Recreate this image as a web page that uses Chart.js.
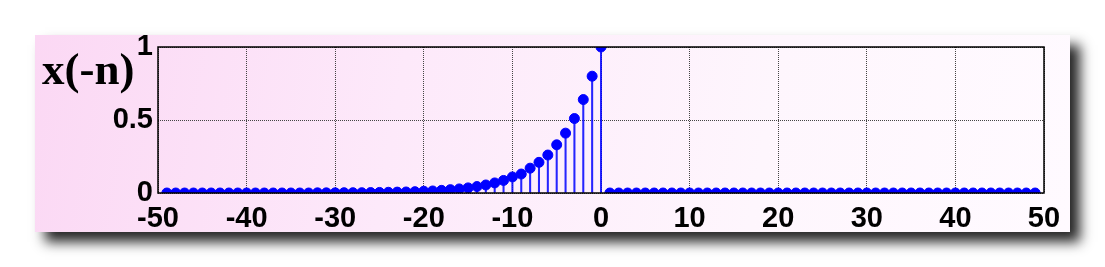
<!DOCTYPE html>
<html>
<head>
<meta charset="utf-8">
<script src="https://cdn.jsdelivr.net/npm/chart.js@4/dist/chart.umd.min.js"></script>
<style>
  html, body { margin: 0; padding: 0; background: #fff; }
  body { width: 1105px; height: 267px; position: relative; overflow: hidden; }
  .panel {
    position: absolute; left: 35px; top: 35px; width: 1035px; height: 197px;
    background: linear-gradient(100deg, #fbd8f4 0%, #fde9fa 35%, #fef6fd 70%, #fffaff 100%);
    box-shadow: 10px 10px 12px rgba(0,0,0,0.85);
  }
  .wrap { position: absolute; left: 0; top: 0; width: 1105px; height: 267px; }
  .ylab {
    position: absolute; left: 42px; top: 47px;
    font-family: "Liberation Serif", "DejaVu Serif", serif; font-weight: bold;
    font-size: 45px; line-height: 1; color: #000;
  }
</style>
</head>
<body>
<div class="panel"></div>
<div class="wrap"><canvas id="stemChart" width="1105" height="267"></canvas></div>
<div class="ylab">x(-n)</div>
<script>
// n = -49 ... 49
const nValues = [];
for (let n = -49; n <= 49; n++) nValues.push(n);

// x(-n), from n = -49 up to n = 0
const leftValues = [
    0, 0, 0, 0, 0, 0, 0, 0, 0, 0,
    0, 0, 0, 0, 0, 0, 0, 0, 0, 0.001,
    0.001, 0.001, 0.002, 0.002, 0.002, 0.003, 0.004, 0.005, 0.006, 0.007,
    0.009, 0.012, 0.014, 0.018, 0.023, 0.028, 0.035, 0.044, 0.055, 0.069,
    0.086, 0.11, 0.13, 0.17, 0.21, 0.26, 0.33, 0.41, 0.51, 0.64,
    0.8, 1.0
].slice(-50);
// n = 1 ... 49
const rightValues = new Array(49).fill(0);
const xValues = leftValues.concat(rightValues);

const xTicks = [-50, -40, -30, -20, -10, 0, 10, 20, 30, 40, 50];
const yTicks = [0, 0.5, 1];

const points = nValues.map((n, i) => ({ x: n, y: xValues[i] }));

const boxPlugin = {
    id: 'box',
    afterDraw(chart) {
        const { ctx, chartArea: a } = chart;
        ctx.save();
        ctx.strokeStyle = '#000';
        ctx.lineWidth = 1.5;
        ctx.strokeRect(a.left, a.top, a.right - a.left, a.bottom - a.top);
        ctx.restore();
    }
};

const tickFont = { family: '"Liberation Sans", Arial, sans-serif', size: 29, weight: 'bold' };

new Chart(document.getElementById('stemChart'), {
    data: {
        datasets: [
            {
                type: 'scatter',
                data: points,
                backgroundColor: '#0000ff',
                borderColor: '#0000ff',
                pointRadius: 5,
                pointHoverRadius: 5,
                order: 1
            },
            {
                type: 'bar',
                data: points,
                backgroundColor: 'rgba(0,0,255,0.85)',
                borderWidth: 0,
                barThickness: 1.4,
                order: 2
            }
        ]
    },
    options: {
        responsive: false,
        animation: false,
        layout: { padding: { left: 60, right: 61, top: 47, bottom: 34 } },
        plugins: { legend: { display: false }, tooltip: { enabled: false } },
        scales: {
            x: {
                type: 'linear',
                offset: false,
                min: -50, max: 50,
                afterBuildTicks: s => { s.ticks = xTicks.map(v => ({ value: v })); },
                afterFit: s => { s.height = 40; },
                grid: { color: '#444', lineWidth: 1, drawTicks: false, offset: false },
                border: { display: false, dash: [1, 1] },
                ticks: { color: '#000', font: tickFont, padding: 9, callback: v => String(v) }
            },
            y: {
                min: 0, max: 1,
                afterBuildTicks: s => { s.ticks = yTicks.map(v => ({ value: v })); },
                afterFit: s => { s.width = 98; },
                grid: { color: '#444', lineWidth: 1, drawTicks: false },
                border: { display: false, dash: [1, 1] },
                ticks: { color: '#000', font: tickFont, padding: 5, callback: v => String(v) }
            }
        }
    },
    plugins: [boxPlugin]
});
</script>
</body>
</html>
